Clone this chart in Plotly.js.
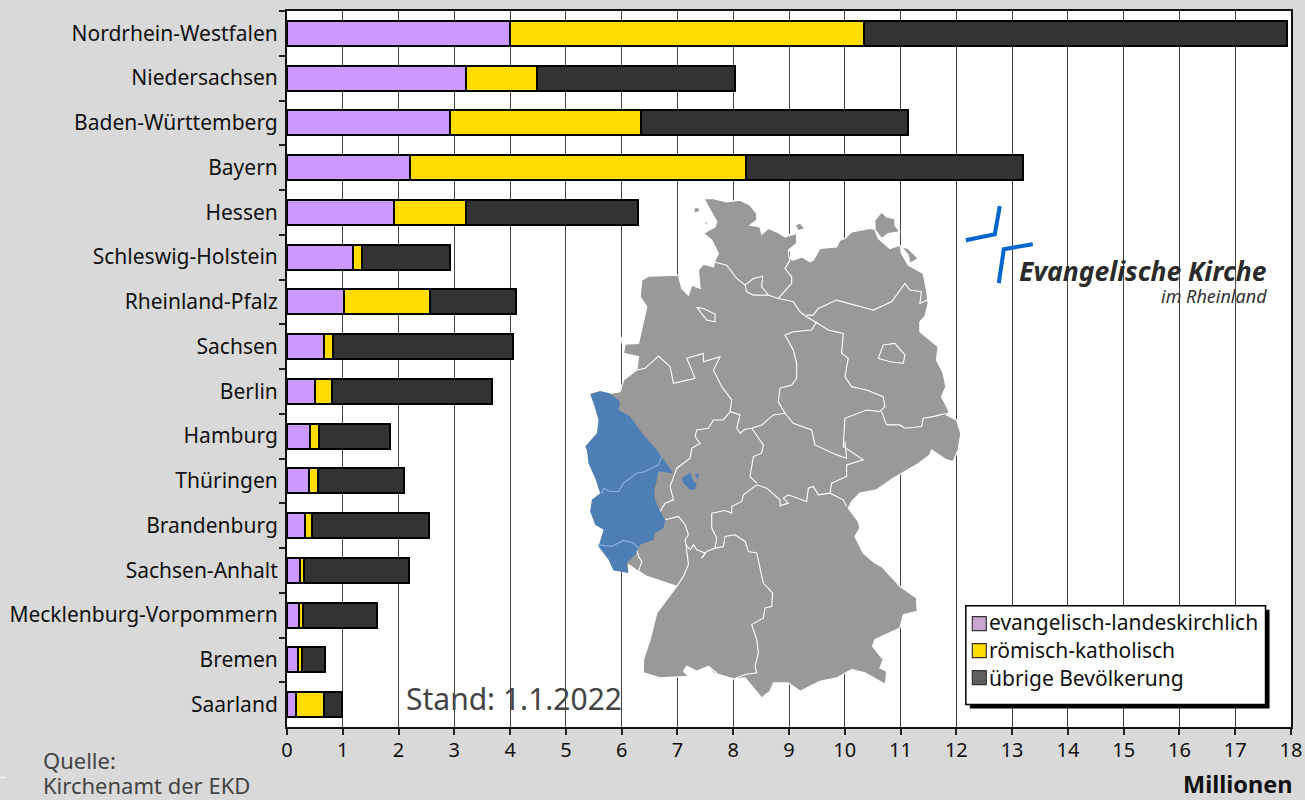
<!DOCTYPE html>
<html><head><meta charset="utf-8">
<script src="https://cdn.plot.ly/plotly-3.0.1.min.js"></script>
<style>html,body{margin:0;padding:0;background:#D9D9D9}</style></head>
<body><div id="chart" style="width:1305px;height:800px"></div>
<script>
const laender = ["Nordrhein-Westfalen","Niedersachsen","Baden-Württemberg","Bayern","Hessen","Schleswig-Holstein","Rheinland-Pfalz","Sachsen","Berlin","Hamburg","Thüringen","Brandenburg","Sachsen-Anhalt","Mecklenburg-Vorpommern","Bremen","Saarland"];
const evangelisch = [4.00,3.21,2.93,2.21,1.92,1.19,1.03,0.67,0.51,0.42,0.40,0.33,0.24,0.22,0.19,0.16];
const katholisch  = [6.34,1.28,3.42,6.02,1.29,0.16,1.54,0.15,0.29,0.16,0.16,0.11,0.07,0.06,0.07,0.51];
const uebrige     = [7.59,3.54,4.78,4.96,3.09,1.58,1.54,3.24,2.88,1.27,1.54,2.11,1.87,1.34,0.42,0.32];
const xTicks = [0,1,2,3,4,5,6,7,8,9,10,11,12,13,14,15,16,17,18];
const legendNames = ["evangelisch-landeskirchlich","römisch-katholisch","übrige Bevölkerung"];
const legendColors = ["#C9A5D2","#FFDD00","#5F5F5F"];
const barColors = ["#CC99FF","#FFDD00","#333333"];

// Decorative map outline, traced in page pixels /3 from origin (580,190)
const landNord = [372,25,400,25,440,35,480,30,510,45,530,70,530,90,510,105,540,110,545,132,565,115,590,125,615,140,650,130,650,160,625,180,628,205,640,210,665,200,690,215,700,210,720,175,770,170,780,150,795,145,815,125,870,115,885,118,895,145,930,175,960,165,965,190,985,225,1030,250,1040,300,1045,340,1035,380,1020,395,1020,425,1075,470,1070,510,1090,550,1098,590,1085,620,1108,665,1100,675,1130,690,1143,730,1135,780,
 1120,815,1100,810,1055,780,1050,795,1010,825,975,845,940,865,890,900,840,910,815,935,805,955,835,995,840,1015,825,1040,850,1090,885,1120,905,1130,960,1190,1010,1225,1012,1265,970,1275,960,1315,885,1350,878,1370,910,1410,900,1435,920,1445,917,1485,855,1450,815,1440,770,1465,720,1475,660,1505,625,1480,580,1480,570,1505,545,1525,495,1465,460,1468,400,1450,385,1430,350,1445,320,1430,310,1445,325,1460,240,1465,190,1450,190,1410,210,1350,230,1270,290,1190,200,1160,175,1145,145,1125,145,1150,100,1140,85,1110,55,1070,70,1020,45,1005,30,965,35,930,60,910,45,865,25,820,20,780,15,770,50,730,55,690,45,655,30,612,60,603,88,610,120,605,130,570,170,540,175,500,130,490,135,462,175,460,200,350,180,320,185,270,205,258,295,255,305,295,325,315,335,285,360,295,355,240,370,222,400,230,405,210,415,190,395,150,370,130,405,110,410,95,385,50];
const ruegen = [885,90,905,65,920,80,945,85,945,105,960,125,925,130,905,145,885,118];
const usedom = [965,170,985,175,1015,205,990,220,985,195];
const fehmarn = [645,105,660,98,675,115,655,122];
const sylt = [345,50,360,55,355,68,340,65];
const foehr = [370,92,385,98,378,105];
const kuesteWeiss = [
 [340,5,335,40,335,70,375,100],
 [140,270,190,250,290,240],
 [627,130,627,185],
 [797,120,815,115,885,80],
 [130,462,128,440]];
const landBlau = [30,612,60,603,88,610,120,635,115,660,150,680,190,735,228,778,280,850,235,845,228,880,222,900,225,930,240,965,255,990,250,1015,225,1030,220,1050,180,1065,165,1095,140,1120,145,1150,100,1142,85,1110,55,1070,70,1020,45,1005,30,965,35,930,60,910,45,865,25,820,20,780,15,770,50,730,55,690,45,655];
const enklave1 = [305,865,330,848,340,875,350,880,345,900,330,900,310,880];
const enklave2 = [345,850,358,855,352,870];
const blauGrenzen = [
 [245,800,235,825,195,845,170,850,130,880,115,905,90,905,70,895,65,910],
 [52,1065,95,1070,130,1052,160,1060,175,1075]];
const grenzen = [
 [400,215,440,225,470,265,495,285,500,305,520,315,565,315,595,325,640,335,660,365,680,380,705,395,745,420,790,430,785,490,805,505,795,560,815,590,860,600,910,620,915,650,900,665],
 [495,285,520,265,548,258,545,290,565,315],
 [595,325,635,280,635,260,615,235,630,210],
 [680,375,700,375,715,355,770,330,880,360,935,335,975,280,990,300,1025,305,1020,340,1045,328],
 [710,395,695,420,640,425,615,435,640,480,650,520,650,565,635,585,600,595,595,635,615,670],
 [615,670,640,700,695,720,705,765,770,795,800,805,795,755],
 [900,665,860,660,795,685,790,770,850,810,800,825,800,860,755,880,750,910],
 [905,665,920,705,960,705,975,715,1025,710,1030,685,1060,680,1100,670],
 [615,670,580,675,545,705,515,715,495,718,480,730,470,715,480,675,450,665,455,630,425,590,400,540,420,500,370,515,370,490,320,505,345,565,280,580,270,530,235,498,195,535,170,540],
 [450,665,430,690,400,690,385,715,350,720,345,740,360,760,335,775,330,805,290,835,270,890,280,930,255,940,240,965],
 [515,715,550,765,545,790,520,800,510,860,530,880],
 [530,885,560,895,600,930,600,948,625,940,610,925,625,915,665,930,680,935,685,895,700,890,715,915,750,910,790,930,800,950],
 [530,885,490,915,485,935,455,950,455,970,435,962,395,970,395,1015,410,1045,405,1075,380,1085,365,1105],
 [405,1075,430,1070,435,1040,465,1035,495,1055,505,1085,530,1090,540,1135,550,1180,578,1210,575,1250,555,1255,550,1285,515,1305,530,1350,535,1390,525,1430,530,1450,495,1455,460,1468],
 [365,1105,375,1090,350,1080,340,1065,330,1080,318,1065,325,1125,310,1160,290,1190],
 [255,990,295,980,315,1005,325,1035,315,1050,318,1065],
 [170,1080,175,1100,185,1115,175,1145],
 [895,505,910,465,945,460,975,495,970,520,930,515,895,505],
 [350,352,370,355,405,372,405,395,380,390,350,352],
 [385,1430,410,1450]];
const kreuzOben = [966,240,995,234,1000,206];
const kreuzUnten = [1033,244,1004,249,999,283];

const L=286.5,R=1291.5,T=10.5,B=727.5;
const fx=p=>((p-L)/(R-L)).toFixed(5), fy=p=>((B-p)/(B-T)).toFixed(5);
const zPath=(a,close)=>{let s='';for(let i=0;i<a.length;i+=2){s+=(i?'L':'M')+fx(580+a[i]/3)+','+fy(190+a[i+1]/3);}return s+(close?'Z':'');};
const pxPath=a=>{let s='';for(let i=0;i<a.length;i+=2){s+=(i?'L':'M')+fx(a[i])+','+fy(a[i+1]);}return s;};
const sh=(path,fill,color,width)=>({type:'path',xref:'paper',yref:'paper',layer:'above',path,fillcolor:fill||'rgba(0,0,0,0)',line:{color:color||'rgba(0,0,0,0)',width:width||0}});
const rect=(x0,y0,x1,y1,fill,color,width)=>({type:'rect',xref:'paper',yref:'paper',layer:'above',x0:fx(x0),x1:fx(x1),y0:fy(y0),y1:fy(y1),fillcolor:fill,line:{color:color||fill,width:width===undefined?0:width}});
const shapes=[];
kuesteWeiss.forEach(a=>shapes.push(sh(zPath(a,false),null,'#FFFFFF',4)));
[landNord,ruegen,usedom,fehmarn,sylt,foehr].forEach(a=>shapes.push(sh(zPath(a,true),'#999999','#FFFFFF',1.2)));
grenzen.forEach(a=>shapes.push(sh(zPath(a,false),null,'#FFFFFF',1.1)));
[landBlau,enklave1,enklave2].forEach(a=>shapes.push(sh(zPath(a,true),'#4D7FB5')));
blauGrenzen.forEach(a=>shapes.push(sh(zPath(a,false),null,'#8FB5DE',1.1)));
shapes.push(sh(pxPath(kreuzOben),null,'#0066CC',4));
shapes.push(sh(pxPath(kreuzUnten),null,'#0066CC',4));
shapes.push(rect(970,610,1270,709,'#000000'));
shapes.push(rect(966,606,1266,705,'#FFFFFF','#000000',1.5));
const swY=[617,644,671];
swY.forEach((y,i)=>shapes.push(rect(972.5,y,986.5,y+14,legendColors[i],'#333333',1.2)));
shapes.push(rect(0,777.5,4,778.5,'#FFFFFF'));

const F='"Noto Sans", sans-serif';
const ann=(x,y,text,size,color,anchor,extra)=>Object.assign({xref:'paper',yref:'paper',x:fx(x),y:fy(y),text,showarrow:false,xanchor:anchor||'left',yanchor:'middle',font:{family:F,size,color:color||'#000'}},extra||{});
const annotations=[
 ...legendNames.map((n,i)=>ann(987,[622,650,678][i],n,21,'#111')),
 ann(404,699,'Stand: 1.1.2022',30,'#444'),
 ann(40,761,'Quelle:',22,'#444'),
 ann(40,786,'Kirchenamt der EKD',22,'#444'),
 ann(1296,785,'<b>Millionen</b>',23.5,'#111','right'),
 ann(1269,271,'<b><i>Evangelische Kirche</i></b>',26.5,'#2b2b2b','right'),
 ann(1269,296,'<i>im Rheinland</i>',18,'#333','right')
];
const mk=(x,c)=>({type:'bar',orientation:'h',y:laender,x,marker:{color:c,line:{color:'#000',width:2}},hoverinfo:'x+y',showlegend:false});
Plotly.newPlot('chart',[mk(evangelisch,barColors[0]),mk(katholisch,barColors[1]),mk(uebrige,barColors[2])],{
 width:1305,height:800,paper_bgcolor:'#D9D9D9',plot_bgcolor:'#FFFFFF',barmode:'stack',bargap:0.44,
 margin:{l:L,r:1305-R,t:T,b:800-B,pad:0},font:{family:F,color:'#111'},showlegend:false,
 xaxis:{range:[0,18],tickmode:'array',tickvals:xTicks,ticktext:xTicks.map(String),ticks:'outside',ticklen:6,tickwidth:1.5,tickcolor:'#222',tickfont:{size:20,family:F,color:'#111'},ticklabelstandoff:-2,showgrid:true,gridcolor:'#444',gridwidth:1.3,showline:true,linecolor:'#111',linewidth:2,mirror:true,zeroline:false,tickangle:0},
 yaxis:{type:'category',categoryorder:'array',categoryarray:laender,range:[15.5,-0.5],ticks:'outside',tickson:'boundaries',ticklen:6,tickwidth:1.5,tickcolor:'#222',tickfont:{size:21,family:F,color:'#111'},ticklabelstandoff:3,showline:true,linecolor:'#111',linewidth:2,mirror:true,showgrid:false,zeroline:false},
 shapes,annotations
},{displayModeBar:false,responsive:false});
</script></body></html>
